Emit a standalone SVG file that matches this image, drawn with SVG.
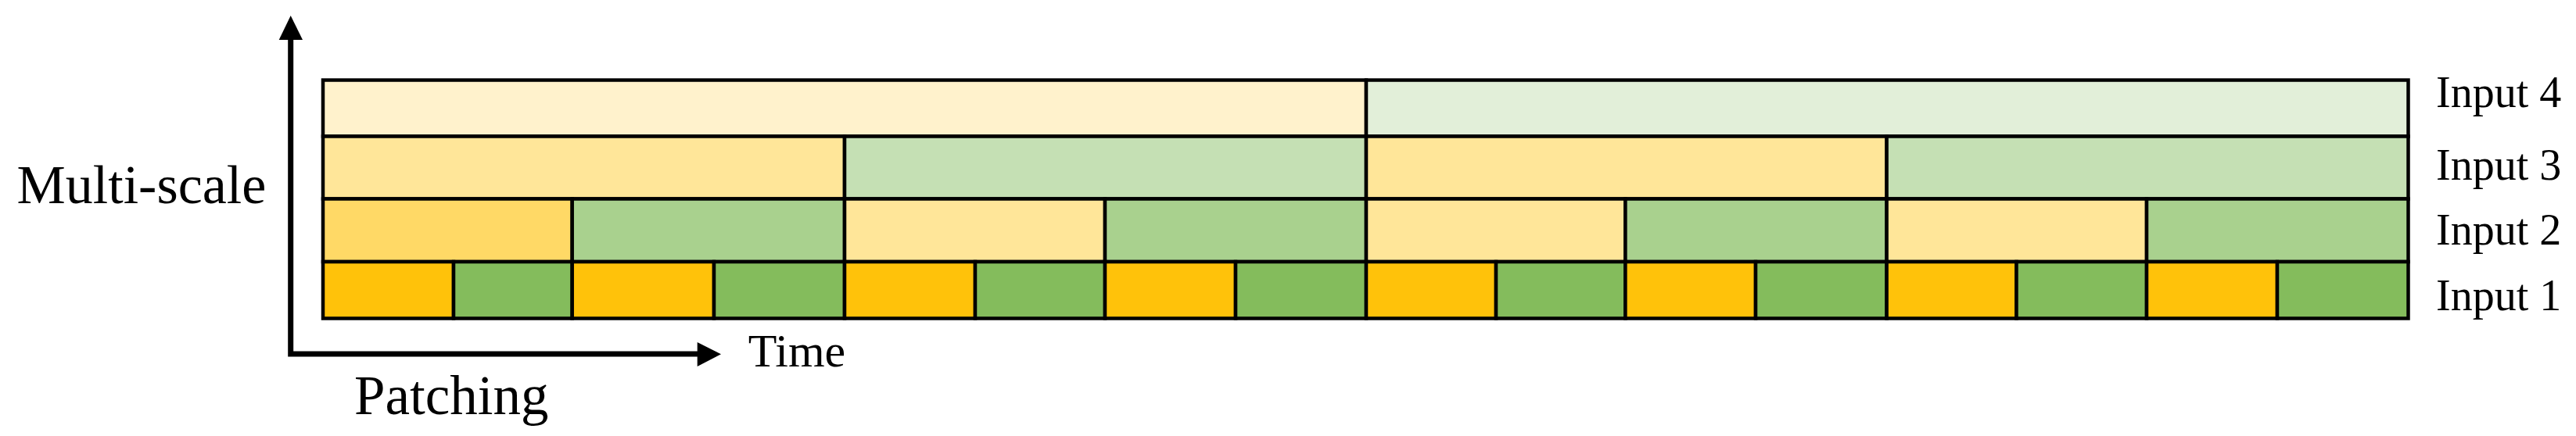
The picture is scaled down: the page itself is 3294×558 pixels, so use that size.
<svg xmlns="http://www.w3.org/2000/svg" width="3294" height="558" viewBox="0 0 3294 558">
<style>
  .c rect { stroke: #000; stroke-width: 4.5; }
  .y1 { fill: #FFC20A; } .g1 { fill: #84BC5C; }
  .y2 { fill: #FFE699; } .y2d { fill: #FFD966; } .g2 { fill: #A9D18E; }
  .y3 { fill: #FFE699; } .g3 { fill: #C5E0B4; }
  .y4 { fill: #FFF2CC; } .g4 { fill: #E2EFD9; }
  text { font-family: "Liberation Serif", "Times New Roman", serif; fill: #000; }
  .lbl { font-size: 56px; }
  .ax { fill: none; stroke: #000; stroke-width: 7; stroke-linejoin: miter; stroke-linecap: square; }
</style>
<rect width="3294" height="558" fill="#fff"/>
<g id="row4" class="c">
  <rect class="y4" x="413" y="102.5" width="1334" height="72"/>
  <rect class="g4" x="1747" y="102.5" width="1332.5" height="72"/>
</g>
<g id="row3" class="c">
  <rect class="y3" x="413" y="174.5" width="667" height="80"/>
  <rect class="g3" x="1080" y="174.5" width="667" height="80"/>
  <rect class="y3" x="1747" y="174.5" width="665.6" height="80"/>
  <rect class="g3" x="2412.6" y="174.5" width="666.9" height="80"/>
</g>
<g id="row2" class="c">
  <rect class="y2d" x="413" y="254.5" width="318.7" height="80.5"/>
  <rect class="g2" x="731.7" y="254.5" width="348.3" height="80.5"/>
  <rect class="y2" x="1080" y="254.5" width="333" height="80.5"/>
  <rect class="g2" x="1413" y="254.5" width="334" height="80.5"/>
  <rect class="y2" x="1747" y="254.5" width="331.4" height="80.5"/>
  <rect class="g2" x="2078.4" y="254.5" width="334.2" height="80.5"/>
  <rect class="y2" x="2412.6" y="254.5" width="332.4" height="80.5"/>
  <rect class="g2" x="2745" y="254.5" width="334.5" height="80.5"/>
</g>
<g id="row1" class="c">
  <rect class="y1" x="413" y="335" width="167" height="72.5"/>
  <rect class="g1" x="580" y="335" width="151.7" height="72.5"/>
  <rect class="y1" x="731.7" y="335" width="181.3" height="72.5"/>
  <rect class="g1" x="913" y="335" width="167" height="72.5"/>
  <rect class="y1" x="1080" y="335" width="167" height="72.5"/>
  <rect class="g1" x="1247" y="335" width="166" height="72.5"/>
  <rect class="y1" x="1413" y="335" width="167" height="72.5"/>
  <rect class="g1" x="1580" y="335" width="167" height="72.5"/>
  <rect class="y1" x="1747" y="335" width="166" height="72.5"/>
  <rect class="g1" x="1913" y="335" width="165.4" height="72.5"/>
  <rect class="y1" x="2078.4" y="335" width="166.6" height="72.5"/>
  <rect class="g1" x="2245" y="335" width="167.6" height="72.5"/>
  <rect class="y1" x="2412.6" y="335" width="165.9" height="72.5"/>
  <rect class="g1" x="2578.5" y="335" width="166.5" height="72.5"/>
  <rect class="y1" x="2745" y="335" width="167" height="72.5"/>
  <rect class="g1" x="2912" y="335" width="167.5" height="72.5"/>
</g>
<g id="labels">
  <text class="lbl" x="3115" y="136.7">Input 4</text>
  <text class="lbl" x="3115" y="230">Input 3</text>
  <text class="lbl" x="3115" y="313">Input 2</text>
  <text class="lbl" x="3115" y="396.7">Input 1</text>
</g>
<g id="connectors">
  <path class="ax" d="M371.7,50 L371.7,453 L893,453"/>
  <polygon points="371.7,20 356.7,51 387,51" fill="#000"/>
  <polygon points="922,453.3 891.7,438 891.7,469" fill="#000"/>
</g>
<g id="axis-labels">
  <text x="21.5" y="260" font-size="70">Multi-scale</text>
  <text x="956.7" y="469" font-size="60">Time</text>
  <text x="453" y="530" font-size="71">Patching</text>
</g>
</svg>
